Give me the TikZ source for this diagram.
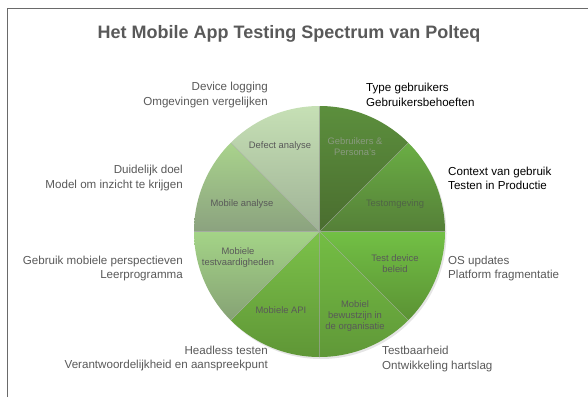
\documentclass[tikz,border=0pt]{standalone}
\usepackage{fontspec}
\setmainfont{Liberation Sans}
\begin{document}
\begin{tikzpicture}[x=1pt,y=1pt,
  outer/.style={font=\fontsize{11.6}{14.3}\selectfont, text=txtgray, inner sep=0pt},
  outerdark/.style={font=\fontsize{11.6}{14.3}\selectfont, text=black, inner sep=0pt},
  inner/.style={font=\fontsize{9.4}{11}\selectfont, text=txtgray, align=center, inner sep=0pt},
  sliceline/.style={draw=black!35, line width=0.5pt, draw opacity=0.6}]
\definecolor{txtgray}{HTML}{595959}
\definecolor{frame}{HTML}{6A6A6A}
\useasboundingbox (0,0) rectangle (588,397);
% frame
\draw[frame, line width=1pt] (7,0) -- (7,388) -- (588,388);
% title
\node[font=\bfseries\fontsize{18}{20}\selectfont, text=txtgray] (title) at (289,363) {Het Mobile App Testing Spectrum van Polteq};
% pie
\coordinate (c) at (319.5,165.5);
\def\R{125.5}
\fill[black, opacity=0.1] ([shift={(1.5,-2)}]c) circle[radius=\R];
\shade[top color={rgb,255:red,92;green,143;blue,61}, bottom color={rgb,255:red,74;green,109;blue,47}]
  (c) -- ++(45:\R) arc[start angle=45, end angle=90, radius=\R] -- cycle;
\shade[top color={rgb,255:red,106;green,174;blue,68}, bottom color={rgb,255:red,85;green,127;blue,56}]
  (c) -- ++(0:\R) arc[start angle=0, end angle=45, radius=\R] -- cycle;
\shade[top color={rgb,255:red,114;green,192;blue,69}, bottom color={rgb,255:red,91;green,146;blue,52}]
  (c) -- ++(-45:\R) arc[start angle=-45, end angle=0, radius=\R] -- cycle;
\shade[top color={rgb,255:red,116;green,190;blue,68}, bottom color={rgb,255:red,96;green,152;blue,56}]
  (c) -- ++(-90:\R) arc[start angle=-90, end angle=-45, radius=\R] -- cycle;
\shade[top color={rgb,255:red,124;green,194;blue,74}, bottom color={rgb,255:red,95;green,150;blue,54}]
  (c) -- ++(-135:\R) arc[start angle=-135, end angle=-90, radius=\R] -- cycle;
\shade[top color={rgb,255:red,164;green,212;blue,135}, bottom color={rgb,255:red,134;green,162;blue,117}]
  (c) -- ++(180:\R) arc[start angle=180, end angle=225, radius=\R] -- cycle;
\shade[top color={rgb,255:red,169;green,211;blue,140}, bottom color={rgb,255:red,139;green,162;blue,127}]
  (c) -- ++(135:\R) arc[start angle=135, end angle=180, radius=\R] -- cycle;
\shade[top color={rgb,255:red,198;green,224;blue,181}, bottom color={rgb,255:red,159;green,178;blue,150}]
  (c) -- ++(90:\R) arc[start angle=90, end angle=135, radius=\R] -- cycle;
\foreach \a in {0,45,...,315} {\draw[sliceline] (c) -- ++(\a:\R);}
% inner labels
\node[inner, text={rgb,255:red,138;green,154;blue,128}] (gebr) at (355,250) {Gebruikers \&\\Persona's};
\node[inner, text={rgb,255:red,80;green,100;blue,70}] (testomg) at (395,193) {Testomgeving};
\node[inner] (defect) at (280,251) {Defect analyse};
\node[inner] (mobana) at (242,193) {Mobile analyse};
\node[inner] (mobtest) at (238,139) {Mobiele\\testvaardigheden};
\node[inner] (mobapi) at (281,87) {Mobiele API};
\node[inner] (mobbew) at (355,81) {Mobiel\\bewustzijn in\\de organisatie};
\node[inner] (testdev) at (395,133) {Test device\\beleid};
% outer labels
\node[outer, anchor=east, align=right] (devlog) at (268,302) {Device logging\\Omgevingen vergelijken};
\node[outer, anchor=east, align=right] (duid) at (183,219) {Duidelijk doel\\Model om inzicht te krijgen};
\node[outer, anchor=east, align=right] (gebrmob) at (183,128.5) {Gebruik mobiele perspectieven\\Leerprogramma};
\node[outer, anchor=east, align=right] (headless) at (268,38.5) {Headless testen\\Verantwoordelijkheid en aanspreekpunt};
\node[outerdark, anchor=west, align=left] (type) at (366,302) {Type gebruikers\\Gebruikersbehoeften};
\node[outerdark, anchor=west, align=left] (context) at (448,218.5) {Context van gebruik\\Testen in Productie};
\node[outer, anchor=west, align=left] (os) at (448,128.5) {OS updates\\Platform fragmentatie};
\node[outer, anchor=west, align=left] (testb) at (382,38) {Testbaarheid\\Ontwikkeling hartslag};
\end{tikzpicture}
\end{document}
